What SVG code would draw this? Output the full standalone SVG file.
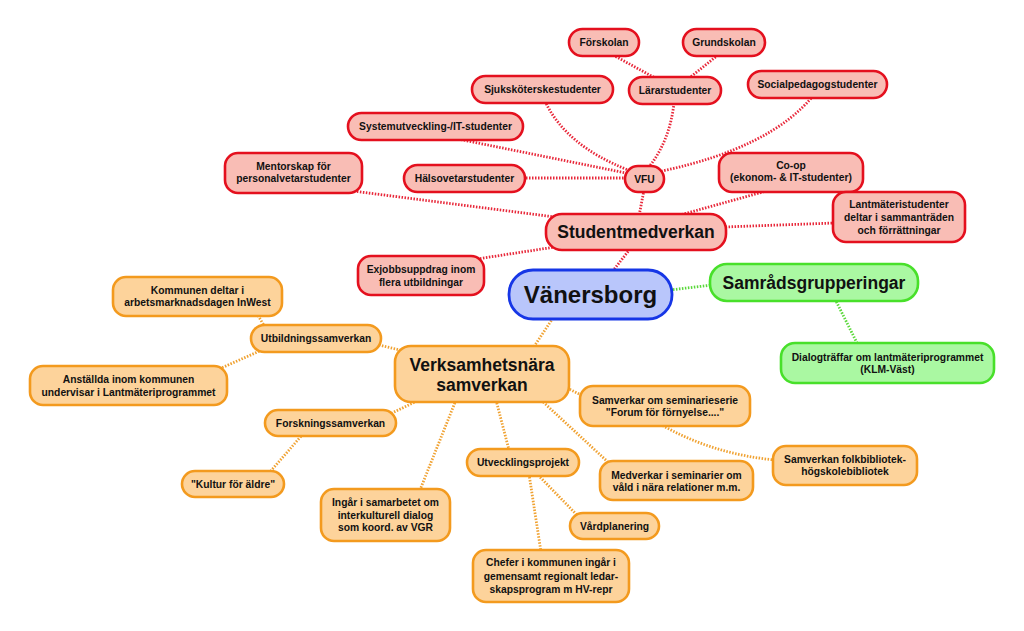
<svg xmlns="http://www.w3.org/2000/svg" width="1024" height="631" viewBox="0 0 1024 631">
<style>
text{font-family:"Liberation Sans",Arial,sans-serif;font-weight:bold;fill:#111;text-anchor:middle;font-size:10.3px}
.big{font-size:17.5px}
.huge{font-size:24px}
.c{fill:none;stroke-width:2.8;stroke-dasharray:1.5 1.5}
.cr{stroke:#e8283a}
.cg{stroke:#5ad83a}
.co{stroke:#f0a232}
.r rect{fill:#f9bdb5;stroke:#e4101e;stroke-width:2.6}
.o rect{fill:#fdd39b;stroke:#f39a1e;stroke-width:2.6}
.g rect{fill:#aaf8a2;stroke:#48e02a;stroke-width:2.6}
.b rect{fill:#b9c6fb;stroke:#1636e6;stroke-width:2.8}
</style>
<rect width="1024" height="631" fill="#fff"/>
<g id="connectors">
<path class="c cr" d="M613,55 L657,79"/>
<path class="c cr" d="M718,55 L688,79"/>
<path class="c cr" d="M674,103 Q670,140 649,167"/>
<path class="c cr" d="M545,101 Q565,145 628,170"/>
<path class="c cr" d="M813,96 Q770,148 662,171"/>
<path class="c cr" d="M458,139 L626,173"/>
<path class="c cr" d="M523,178 L626,178"/>
<path class="c cr" d="M644,190 L639,216"/>
<path class="c cr" d="M345,190 L555,217"/>
<path class="c cr" d="M770,190 L680,215"/>
<path class="c cr" d="M835,223 L724,227"/>
<path class="c cr" d="M477,259 L555,247"/>
<path class="c cr" d="M630,249 L612,272"/>
<path class="c cg" d="M670,290 L712,285"/>
<path class="c cg" d="M835,299 L858,345"/>
<path class="c co" d="M553,318 L533,348"/>
<path class="c co" d="M567,388 L583,396"/>
<path class="c co" d="M379,345 L404,351"/>
<path class="c co" d="M265,327 L257,314"/>
<path class="c co" d="M262,350 L219,369"/>
<path class="c co" d="M417,401 L392,413"/>
<path class="c co" d="M303,434 L269,473"/>
<path class="c co" d="M456,400 L420,490"/>
<path class="c co" d="M496,400 L509,450"/>
<path class="c co" d="M541,400 L609,463"/>
<path class="c co" d="M529,474 L541,552"/>
<path class="c co" d="M538,475 L577,515"/>
<path class="c co" d="M660,424 Q712,454 775,460"/>
</g>
<g id="n-forskolan" class="r"><rect x="569" y="29" width="70" height="27" rx="13.5"/><text x="604" y="46">Förskolan</text></g>
<g id="n-grundskolan" class="r"><rect x="683" y="29" width="82" height="27" rx="13.5"/><text x="724" y="46">Grundskolan</text></g>
<g id="n-lararstudenter" class="r"><rect x="629" y="77" width="92" height="27" rx="13.5"/><text x="675" y="94">Lärarstudenter</text></g>
<g id="n-sjukskoterske" class="r"><rect x="472" y="76" width="141" height="27" rx="13.5"/><text x="542.5" y="93">Sjuksköterskestudenter</text></g>
<g id="n-socialpedagog" class="r"><rect x="748" y="71" width="139" height="27" rx="13.5"/><text x="817.5" y="88">Socialpedagogstudenter</text></g>
<g id="n-systemutveckling" class="r"><rect x="348" y="113" width="175" height="27" rx="13.5"/><text x="435.5" y="130">Systemutveckling-/IT-studenter</text></g>
<g id="n-mentorskap" class="r"><rect x="225" y="153" width="137" height="40" rx="13"/><text x="293.5" y="169.5">Mentorskap för</text><text x="293.5" y="182">personalvetarstudenter</text></g>
<g id="n-halsovetar" class="r"><rect x="404" y="165" width="121" height="27" rx="13.5"/><text x="464.5" y="182">Hälsovetarstudenter</text></g>
<g id="n-vfu" class="r"><rect x="625" y="166" width="39" height="26" rx="13"/><text x="644.5" y="182.5">VFU</text></g>
<g id="n-coop" class="r"><rect x="719" y="153" width="144" height="39" rx="13"/><text x="791" y="168.5">Co-op</text><text x="791" y="181">(ekonom- &amp; IT-studenter)</text></g>
<g id="n-lantmateri" class="r"><rect x="833" y="192" width="132" height="50" rx="13"/><text x="899" y="208">Lantmäteristudenter</text><text x="899" y="221">deltar i sammanträden</text><text x="899" y="233.7">och förrättningar</text></g>
<g id="n-studentmedverkan" class="r"><rect x="546" y="214" width="180" height="36" rx="16"/><text class="big" x="636" y="238.3">Studentmedverkan</text></g>
<g id="n-exjobb" class="r"><rect x="358" y="256" width="126" height="39" rx="13"/><text x="421" y="273">Exjobbsuppdrag inom</text><text x="421" y="285.5">flera utbildningar</text></g>
<g id="n-vanersborg" class="b"><rect x="509" y="270" width="163" height="49" rx="24"/><text class="huge" x="590.5" y="303">Vänersborg</text></g>
<g id="n-samrad" class="g"><rect x="710" y="264" width="208" height="37" rx="17"/><text class="big" x="814" y="289">Samrådsgrupperingar</text></g>
<g id="n-dialog" class="g"><rect x="781" y="343" width="213" height="40" rx="14"/><text x="887.5" y="361">Dialogträffar om lantmäteriprogrammet</text><text x="887.5" y="373">(KLM-Väst)</text></g>
<g id="n-kommunen" class="o"><rect x="113" y="277" width="169" height="39" rx="13"/><text x="197.5" y="293.7">Kommunen deltar i</text><text x="197.5" y="306.3">arbetsmarknadsdagen InWest</text></g>
<g id="n-utbildning" class="o"><rect x="251" y="325" width="130" height="27" rx="13.5"/><text x="316" y="342">Utbildningssamverkan</text></g>
<g id="n-anstallda" class="o"><rect x="30" y="366" width="197" height="39" rx="13"/><text x="128.5" y="383">Anställda inom kommunen</text><text x="128.5" y="395.5">undervisar i Lantmäteriprogrammet</text></g>
<g id="n-verksamhetsnara" class="o"><rect x="395" y="346" width="174" height="56" rx="16"/><text class="big" x="482" y="371.3">Verksamhetsnära</text><text class="big" x="482" y="390.8">samverkan</text></g>
<g id="n-forskning" class="o"><rect x="265" y="410" width="131" height="26" rx="13"/><text x="330.5" y="426.7">Forskningssamverkan</text></g>
<g id="n-kultur" class="o"><rect x="182" y="471" width="102" height="26" rx="13"/><text x="233" y="487.7">"Kultur för äldre"</text></g>
<g id="n-ingar" class="o"><rect x="321" y="489" width="129" height="52" rx="13"/><text x="385.5" y="506">Ingår i samarbetet om</text><text x="385.5" y="518.7">interkulturell dialog</text><text x="385.5" y="531">som koord. av VGR</text></g>
<g id="n-utveckling" class="o"><rect x="467" y="449" width="112" height="27" rx="13.5"/><text x="523" y="466">Utvecklingsprojekt</text></g>
<g id="n-vardplanering" class="o"><rect x="570" y="513" width="89" height="26" rx="13"/><text x="614.5" y="529.7">Vårdplanering</text></g>
<g id="n-chefer" class="o"><rect x="473" y="550" width="156" height="52" rx="13"/><text x="551" y="566.4">Chefer i kommunen ingår i</text><text x="551" y="579.7">gemensamt regionalt ledar-</text><text x="551" y="592.7">skapsprogram m HV-repr</text></g>
<g id="n-medverkar" class="o"><rect x="600" y="461" width="153" height="39" rx="13"/><text x="676.5" y="478.7">Medverkar i seminarier om</text><text x="676.5" y="491">våld i nära relationer m.m.</text></g>
<g id="n-samverkar" class="o"><rect x="580" y="386" width="170" height="40" rx="13"/><text x="665" y="403.7">Samverkar om seminarieserie</text><text x="665" y="416.4">"Forum för förnyelse...."</text></g>
<g id="n-folkbibliotek" class="o"><rect x="773" y="446" width="144" height="39" rx="13"/><text x="845" y="463">Samverkan folkbibliotek-</text><text x="845" y="475.4">högskolebibliotek</text></g>
</svg>
